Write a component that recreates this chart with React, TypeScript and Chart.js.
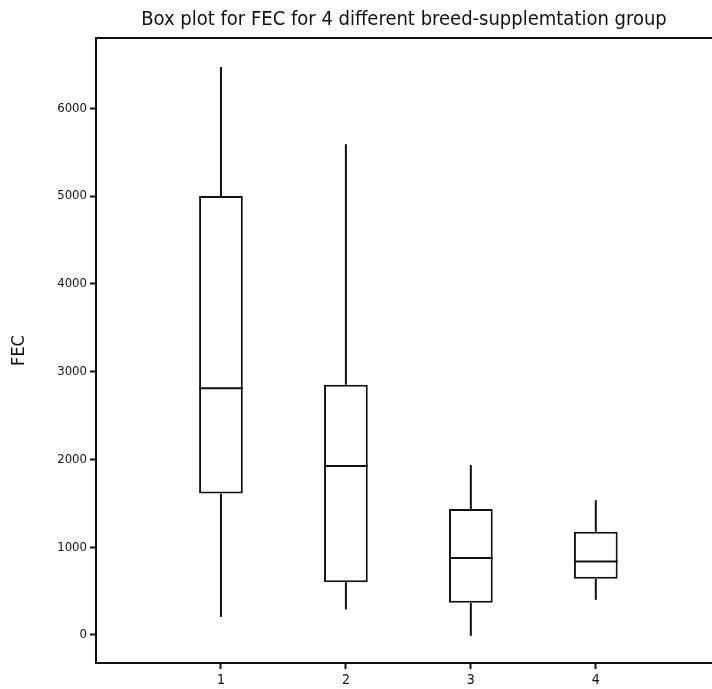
import React, { useEffect, useRef } from "react";
import { Chart, registerables } from "chart.js";

Chart.register(...registerables);

const GROUPS = [1, 2, 3, 4];
const MINS = [205, 290, -10, 400];
const Q1S = [1610, 600, 365, 640];
const MEDIANS = [2810, 1925, 877, 835];
const Q3S = [5000, 2850, 1435, 1175];
const MAXS = [6470, 5590, 1935, 1535];
const Y_TICKS = [0, 1000, 2000, 3000, 4000, 5000, 6000];
const TITLE = "Box plot for FEC for 4 different breed-supplemtation group";
const Y_TITLE = "FEC";

const INK = "#111111";
const COND = '"DejaVu Sans Condensed", "Liberation Sans Narrow", sans-serif';

const boxPlugin = {
  id: "boxWhiskers",
  afterDatasetsDraw(chart: any) {
    const { ctx, chartArea, scales } = chart;
    const x = scales.x;
    const y = scales.y;
    const meta = chart.getDatasetMeta(0);
    ctx.save();
    ctx.strokeStyle = INK;
    ctx.lineWidth = 2;
    ctx.lineCap = "butt";
    const line = (x1: number, y1: number, x2: number, y2: number) => {
      ctx.beginPath();
      ctx.moveTo(x1, y1);
      ctx.lineTo(x2, y2);
      ctx.stroke();
    };
    meta.data.forEach((bar: any, i: number) => {
      const cx = x.getPixelForValue(GROUPS[i]);
      const half = bar.width / 2;
      line(cx, y.getPixelForValue(Q3S[i]), cx, y.getPixelForValue(MAXS[i]));
      line(cx, y.getPixelForValue(Q1S[i]), cx, y.getPixelForValue(MINS[i]));
      const my = y.getPixelForValue(MEDIANS[i]);
      line(cx - half, my, cx + half, my);
    });
    line(chartArea.left - 1, chartArea.top, chartArea.right, chartArea.top);
    ctx.restore();
  },
};

export default function App() {
  const ref = useRef<HTMLCanvasElement | null>(null);

  useEffect(() => {
    if (!ref.current) return;
    const chart = new Chart(ref.current, {
      type: "bar",
      data: {
        datasets: [
          {
            data: GROUPS.map((g, i) => ({ x: g, y: [Q1S[i], Q3S[i]] })) as any,
            backgroundColor: "#ffffff",
            borderColor: INK,
            borderWidth: 2,
            borderSkipped: false,
            barPercentage: 0.35,
            categoryPercentage: 1,
          },
        ],
      },
      options: {
        animation: false,
        responsive: false,
        maintainAspectRatio: false,
        layout: { padding: 0 },
        plugins: {
          legend: { display: false },
          tooltip: { enabled: false },
          title: {
            display: true,
            text: TITLE,
            fullSize: false,
            color: INK,
            font: { family: COND, size: 20, weight: "normal", lineHeight: 1.2 },
            padding: { top: 8, bottom: 6 },
          },
        },
        scales: {
          x: {
            type: "linear",
            offset: false,
            min: 0,
            max: 4.93,
            afterBuildTicks: (s: any) => {
              s.ticks = GROUPS.map((v) => ({ value: v }));
            },
            afterFit: (s: any) => {
              s.height = 26;
            },
            grid: {
              display: true,
              offset: false,
              drawOnChartArea: false,
              drawTicks: true,
              tickLength: 6,
              tickColor: INK,
              tickWidth: 2,
            },
            border: { display: true, color: INK, width: 2 },
            ticks: {
              color: INK,
              padding: 3,
              font: { family: COND, size: 14 },
              callback: (v: any) => String(v),
            },
          },
          y: {
            type: "linear",
            min: -320,
            max: 6800,
            afterBuildTicks: (s: any) => {
              s.ticks = Y_TICKS.map((v) => ({ value: v }));
            },
            afterFit: (s: any) => {
              s.width = 96;
            },
            title: {
              display: true,
              text: Y_TITLE,
              color: INK,
              font: { family: COND, size: 18, lineHeight: 1.2 },
              padding: { top: 9, bottom: 0 },
            },
            grid: {
              display: true,
              drawOnChartArea: false,
              drawTicks: true,
              tickLength: 6,
              tickColor: INK,
              tickWidth: 2,
            },
            border: { display: true, color: INK, width: 2 },
            ticks: {
              color: INK,
              padding: 3,
              font: { family: COND, size: 13 },
              callback: (v: any) => String(v),
            },
          },
        },
      },
      plugins: [boxPlugin],
    });
    return () => chart.destroy();
  }, []);

  return (
    <div style={{ position: "absolute", left: 0, top: 0, width: 712, height: 689, background: "#fff" }}>
      <canvas ref={ref} width={712} height={689} style={{ display: "block" }} />
    </div>
  );
}
